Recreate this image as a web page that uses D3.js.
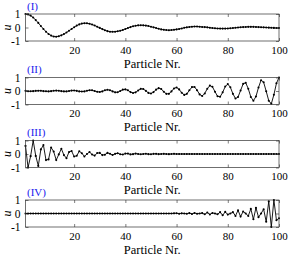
<!DOCTYPE html>
<html><head><meta charset="utf-8">
<script src="https://cdn.jsdelivr.net/npm/d3@7"></script>
<style>html,body{margin:0;padding:0;background:#fff;}svg{display:block;}</style>
</head><body>
<div id="chart"></div>
<script>
const particles = d3.range(1, 101);
const xTicks = [20, 40, 60, 80, 100];
const yTicks = [-1, 0, 1];
const panelLabels = ["(I)", "(II)", "(III)", "(IV)"];
const xLabel = "Particle Nr.";
const yLabel = "u";

const seriesI = [
 1.00, 0.97, 0.88, 0.74, 0.55, 0.34, 0.11, -0.11, -0.31, -0.48,
 -0.60, -0.67, -0.68, -0.645, -0.58, -0.49, -0.37, -0.24, -0.11, 0.02,
 0.14, 0.23, 0.29, 0.32, 0.31, 0.28, 0.22, 0.15, 0.06, -0.03,
 -0.12, -0.20, -0.27, -0.31, -0.32, -0.31, -0.28, -0.24, -0.18, -0.11,
 -0.04, 0.03, 0.09, 0.13, 0.16, 0.17, 0.16, 0.14, 0.11, 0.06,
 0.01, -0.04, -0.09, -0.14, -0.17, -0.19, -0.20, -0.19, -0.17, -0.14,
 -0.11, -0.07, -0.02, 0.01, 0.04, 0.06, 0.07, 0.07, 0.06, 0.04,
 0.03, 0.01, -0.02, -0.04, -0.06, -0.07, -0.08, -0.08, -0.08, -0.07,
 -0.06, -0.04, -0.02, 0.00, 0.02, 0.03, 0.04, 0.05, 0.05, 0.05,
 0.04, 0.03, 0.02, 0.01, 0.00, -0.01, -0.02, -0.03, -0.04, -0.04
];
const seriesII = [
 0.01, -0.02, -0.02, -0.01, 0.01, 0.02, 0.02, -0.01, -0.02, -0.03,
 -0.01, 0.02, 0.03, 0.02, -0.01, -0.03, -0.03, 0.00, 0.03, 0.04,
 0.01, -0.03, -0.04, -0.03, 0.02, 0.06, 0.05, 0.00, -0.06, -0.07,
 -0.03, 0.05, 0.09, 0.06, -0.03, -0.10, -0.09, 0.00, 0.10, 0.12,
 0.05, -0.08, -0.15, -0.10, 0.04, 0.16, 0.15, 0.01, -0.14, -0.19,
 -0.08, 0.10, 0.21, 0.15, -0.05, -0.21, -0.21, -0.03, 0.19, 0.26,
 0.12, -0.13, -0.29, -0.21, 0.05, 0.29, 0.30, 0.06, -0.25, -0.37,
 -0.18, 0.17, 0.40, 0.31, -0.05, -0.39, -0.43, -0.10, 0.33, 0.51,
 0.28, -0.21, -0.56, -0.45, 0.04, 0.53, 0.61, 0.17, -0.44, -0.72,
 -0.41, 0.26, 0.80, 0.65, -0.02, -0.72, -0.95, -0.28, 0.57, 1.00
];
const seriesIII = [
 0.60, -1.00, -0.16, 1.00, -0.14, -0.88, 0.34, 0.66, -0.45, -0.40,
 0.48, 0.18, -0.45, -0.03, 0.39, -0.08, -0.31, 0.15, 0.22, -0.19,
 -0.13, 0.20, 0.06, -0.18, 0.00, 0.15, -0.04, -0.12, 0.07, 0.08,
 -0.08, -0.05, 0.08, 0.02, -0.07, 0.01, 0.06, -0.02, -0.04, 0.03,
 0.03, -0.03, -0.01, 0.03, 0.00, -0.02, 0.00, 0.02, -0.01, -0.02,
 0.01, 0.01, -0.01, 0.00, 0.01, 0.00, -0.01, 0.00, 0.01, 0.00,
 0, 0, 0, 0, 0, 0, 0, 0, 0, 0,
 0, 0, 0, 0, 0, 0, 0, 0, 0, 0,
 0, 0, 0, 0, 0, 0, 0, 0, 0, 0,
 0, 0, 0, 0, 0, 0, 0, 0, 0, 0
];
const seriesIV = [
 0, 0, 0, 0, 0, 0, 0, 0, 0, 0,
 0, 0, 0, 0, 0, 0, 0, 0, 0, 0,
 0, 0, 0, 0, 0, 0, 0, 0, 0, 0,
 0, 0, 0, 0, 0, 0, 0, 0, 0, 0,
 0, 0, 0, 0, 0, 0, 0, 0, 0, 0,
 0, 0, 0, 0, 0, 0, 0, 0, 0.01, 0.02,
 -0.02, 0.01, 0.00, -0.02, 0.03, -0.04, 0.04, -0.02, 0.00, 0.03,
 -0.06, 0.07, -0.07, 0.04, 0.00, -0.06, 0.10, -0.13, 0.12, -0.08,
 0.00, 0.10, -0.18, 0.24, -0.23, 0.15, 0.00, -0.18, 0.34, -0.43,
 0.42, -0.27, 0.00, 0.32, -0.61, 0.90, -1.00, 1.00, -0.50, -0.35
];
const allSeries = [seriesI, seriesII, seriesIII, seriesIV];

const W = 290, H = 258;
const tops = [14, 77.5, 140.5, 200];
const ph = 27;
const font = "'Liberation Serif', 'Times New Roman', serif";

const svg = d3.select("#chart").append("svg").attr("width", W).attr("height", H);
const x = d3.scaleLinear().domain([1, 100]).range([25.5, 279]);

allSeries.forEach((vals, i) => {
  const top = tops[i];
  const y = d3.scaleLinear().domain([-1, 1]).range([top + ph, top]);
  const g = svg.append("g");
  const cid = "clip" + i;
  svg.append("clipPath").attr("id", cid).append("rect")
    .attr("x", x(1) - 2).attr("y", top - 2).attr("width", x(100) - x(1) + 4).attr("height", ph + 4);

  const data = particles.map((p, j) => [p, vals[j]]);
  const pg = g.append("g").attr("clip-path", `url(#${cid})`);
  pg.append("path").datum(data)
    .attr("d", d3.line().x(d => x(d[0])).y(d => y(d[1])))
    .attr("fill", "none").attr("stroke", "#000").attr("stroke-width", 0.9);
  pg.selectAll("circle").data(data).join("circle")
    .attr("cx", d => x(d[0])).attr("cy", d => y(d[1])).attr("r", 1.05).attr("fill", "#000");

  const ax = [
    g.append("g").attr("transform", `translate(0,${top + ph})`).call(d3.axisBottom(x).tickValues(xTicks).tickSize(-3).tickPadding(5).tickFormat(d3.format("d"))),
    g.append("g").attr("transform", `translate(0,${top})`).call(d3.axisTop(x).tickValues(xTicks).tickSize(-3).tickFormat("")),
    g.append("g").attr("transform", `translate(${x(1)},0)`).call(d3.axisLeft(y).tickValues(yTicks).tickSize(-3).tickPadding(5).tickFormat(d => d === -1 ? "-1" : String(d))),
    g.append("g").attr("transform", `translate(${x(100)},0)`).call(d3.axisRight(y).tickValues(yTicks).tickSize(-3).tickFormat(""))
  ];
  ax.forEach(a => {
    a.select(".domain").remove();
    a.selectAll(".tick line").attr("stroke", "#262626").attr("stroke-width", 0.6);
    a.selectAll("text").attr("font-family", font).attr("font-size", 11).attr("fill", "#000");
  });
  ax[2].selectAll("text").attr("font-size", 11.5);

  g.append("rect").attr("x", x(1)).attr("y", top).attr("width", x(100) - x(1)).attr("height", ph)
    .attr("fill", "none").attr("stroke", "#333").attr("stroke-width", 0.7);

  g.append("text").attr("x", x(1) + 1.5).attr("y", top - 4.5).text(panelLabels[i])
    .attr("font-family", font).attr("font-size", 11).attr("fill", "#2020ee");

  g.append("text").attr("transform", `translate(10.5,${top + ph / 2}) rotate(-90)`)
    .attr("text-anchor", "middle").attr("font-family", font).attr("font-style", "italic")
    .attr("font-size", 12).text(yLabel);

  g.append("text").attr("x", (x(1) + x(100)) / 2).attr("y", top + ph + 26.5)
    .attr("text-anchor", "middle").attr("font-family", font).attr("font-size", 12.5).text(xLabel);
});
</script>
</body></html>
